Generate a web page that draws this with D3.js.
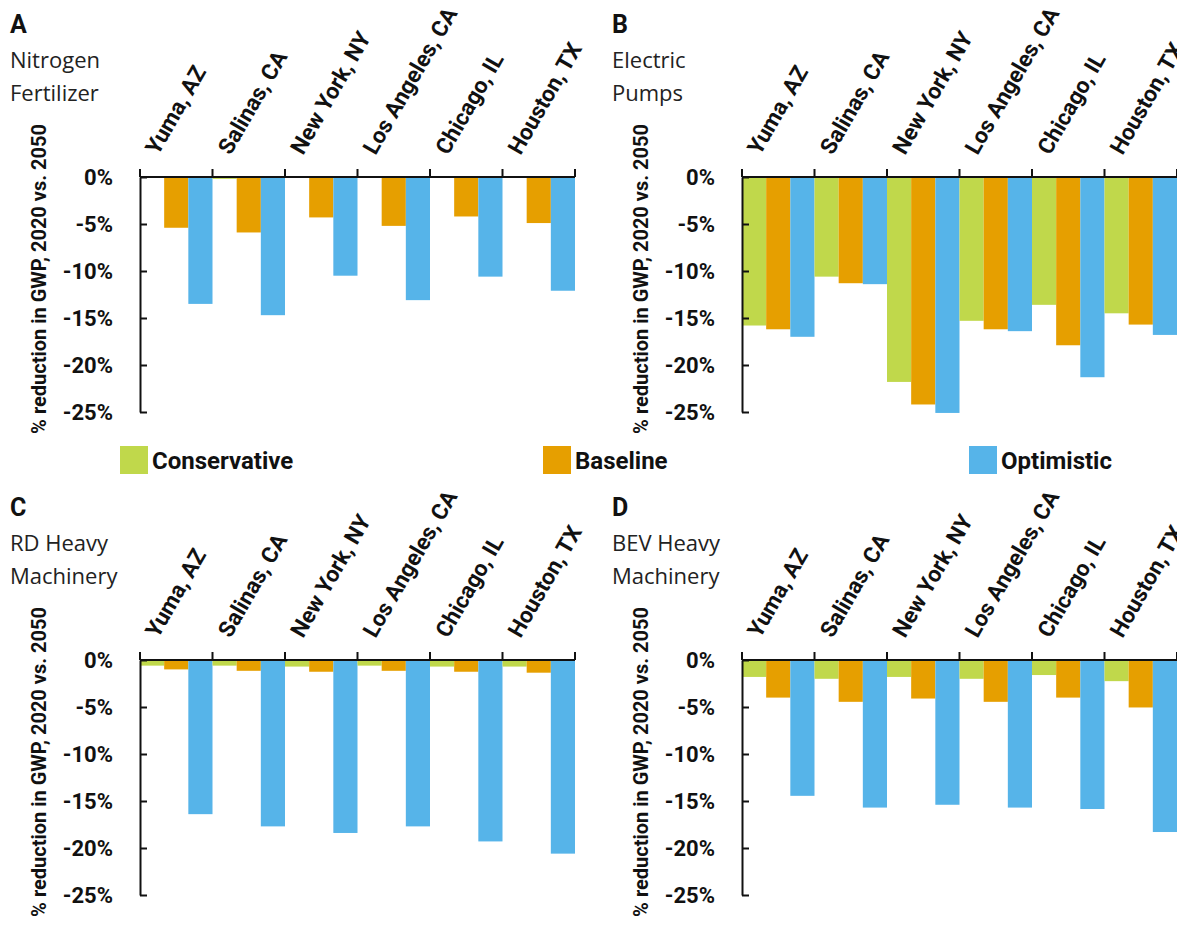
<!DOCTYPE html>
<html>
<head>
<meta charset="utf-8">
<script src="https://cdn.jsdelivr.net/npm/d3@7"></script>
<style>
  html, body { margin: 0; padding: 0; background: #fff; }
  svg { display: block; }
</style>
</head>
<body>
<svg id="chart" width="1177" height="927"></svg>
<script>
// ---------- DATA ----------
const categories = ["Yuma, AZ", "Salinas, CA", "New York, NY", "Los Angeles, CA", "Chicago, IL", "Houston, TX"];
const seriesNames = ["Conservative", "Baseline", "Optimistic"];
const yTickValues = [0, -5, -10, -15, -20, -25];

// Panel A: Nitrogen Fertilizer
const nitrogenConservative = [-0.1, -0.2, -0.1, -0.1, -0.1, -0.1];
const nitrogenBaseline     = [-5.4, -5.9, -4.3, -5.2, -4.2, -4.9];
const nitrogenOptimistic   = [-13.5, -14.7, -10.5, -13.1, -10.6, -12.1];

// Panel B: Electric Pumps
const pumpsConservative = [-15.8, -10.6, -21.8, -15.3, -13.6, -14.5];
const pumpsBaseline     = [-16.2, -11.3, -24.2, -16.2, -17.9, -15.7];
const pumpsOptimistic   = [-17.0, -11.4, -25.1, -16.4, -21.3, -16.8];

// Panel C: RD Heavy Machinery
const rdConservative = [-0.6, -0.6, -0.7, -0.6, -0.7, -0.7];
const rdBaseline     = [-1.0, -1.15, -1.25, -1.15, -1.25, -1.35];
const rdOptimistic   = [-16.4, -17.7, -18.4, -17.7, -19.3, -20.6];

// Panel D: BEV Heavy Machinery
const bevConservative = [-1.8, -2.0, -1.8, -2.0, -1.6, -2.25];
const bevBaseline     = [-4.0, -4.45, -4.1, -4.45, -4.0, -5.05];
const bevOptimistic   = [-14.45, -15.7, -15.4, -15.7, -15.85, -18.3];

const panelLetters = ["A", "B", "C", "D"];
const panelTitles = [["Nitrogen", "Fertilizer"], ["Electric", "Pumps"], ["RD Heavy", "Machinery"], ["BEV Heavy", "Machinery"]];
const yAxisTitle = "% reduction in GWP, 2020 vs. 2050";

// ---------- STYLE / LAYOUT ----------
const colors = { "Conservative": "#c0d84b", "Baseline": "#e69f00", "Optimistic": "#56b4e9" };
const boldFont = "Roboto, 'Liberation Sans', sans-serif";
const regFont = "'Open Sans', 'Noto Sans', sans-serif";

const panels = [
  { ox: 140, oy: 177, series: [nitrogenConservative, nitrogenBaseline, nitrogenOptimistic] },
  { ox: 742, oy: 177, series: [pumpsConservative, pumpsBaseline, pumpsOptimistic] },
  { ox: 140, oy: 660, series: [rdConservative, rdBaseline, rdOptimistic] },
  { ox: 742, oy: 660, series: [bevConservative, bevBaseline, bevOptimistic] }
];

const plotW = 435, plotH = 235;
const svg = d3.select("#chart");

const x = d3.scaleBand().domain(categories).range([0, plotW]).padding(0);
const xs = d3.scaleBand().domain(seriesNames).range([0, x.bandwidth()]).padding(0);
const y = d3.scaleLinear().domain([0, -25]).range([0, plotH]);

panels.forEach((p, pi) => {
  const g = svg.append("g").attr("transform", `translate(${p.ox},${p.oy})`);

  // panel letter + title
  svg.append("text")
    .attr("x", p.ox - 130).attr("y", p.oy - 144)
    .attr("font-family", boldFont).attr("font-weight", 700).attr("font-size", 25)
    .attr("fill", "#111").text(panelLetters[pi]);
  panelTitles[pi].forEach((t, ti) => {
    svg.append("text")
      .attr("x", p.ox - 130).attr("y", p.oy - 109 + ti * 33)
      .attr("font-family", regFont).attr("font-size", 22)
      .attr("fill", "#222").text(t);
  });

  // y-axis title
  svg.append("text")
    .attr("transform", `translate(${p.ox - 94},${p.oy + 102}) rotate(-90)`)
    .attr("text-anchor", "middle")
    .attr("font-family", boldFont).attr("font-weight", 700).attr("font-size", 20)
    .attr("fill", "#111").text(yAxisTitle);

  // bars
  const rows = categories.map((c, ci) => seriesNames.map((s, si) => ({ cat: c, ser: s, v: p.series[si][ci] }))).flat();
  g.selectAll("rect.bar").data(rows).join("rect")
    .attr("class", "bar")
    .attr("x", d => x(d.cat) + xs(d.ser))
    .attr("width", xs.bandwidth())
    .attr("y", d => y(Math.max(0, d.v)))
    .attr("height", d => Math.abs(y(d.v) - y(0)))
    .attr("fill", d => colors[d.ser]);

  // y axis
  const yAxis = d3.axisLeft(y).tickValues(yTickValues).tickFormat(d => d + "%")
    .tickSizeInner(-7).tickSizeOuter(0).tickPadding(27);
  const ya = g.append("g").call(yAxis);
  ya.select(".domain").attr("stroke", "#111").attr("stroke-width", 2);
  ya.selectAll(".tick line").attr("stroke", "#111").attr("stroke-width", 2);
  ya.selectAll(".tick text")
    .attr("font-family", boldFont).attr("font-weight", 700).attr("font-size", 22)
    .attr("fill", "#111").attr("dy", "0.35em");

  // x axis (zero line at top) with boundary ticks
  g.append("line").attr("x1", 0).attr("x2", plotW).attr("y1", y(0)).attr("y2", y(0))
    .attr("stroke", "#111").attr("stroke-width", 2);
  const bounds = categories.map(c => x(c)).concat([x.range()[1]]);
  g.selectAll("line.xtick").data(bounds).join("line")
    .attr("class", "xtick")
    .attr("x1", d => d).attr("x2", d => d)
    .attr("y1", y(0)).attr("y2", y(0) - 8)
    .attr("stroke", "#111").attr("stroke-width", 2);

  // category labels
  g.selectAll("text.cat").data(categories).join("text")
    .attr("class", "cat")
    .attr("transform", d => `translate(${x(d) + 18},${y(0) - 21}) rotate(-60)`)
    .attr("font-family", boldFont).attr("font-weight", 700).attr("font-size", 22.5)
    .attr("fill", "#111").text(d => d);
});

// legend
const legendX = [120, 543, 969];
const lg = svg.append("g");
seriesNames.forEach((s, i) => {
  lg.append("rect").attr("x", legendX[i]).attr("y", 446).attr("width", 28).attr("height", 28)
    .attr("fill", colors[s]);
  lg.append("text").attr("x", legendX[i] + 32).attr("y", 469)
    .attr("font-family", boldFont).attr("font-weight", 700).attr("font-size", 24)
    .attr("fill", "#111").text(s);
});
</script>
</body>
</html>
